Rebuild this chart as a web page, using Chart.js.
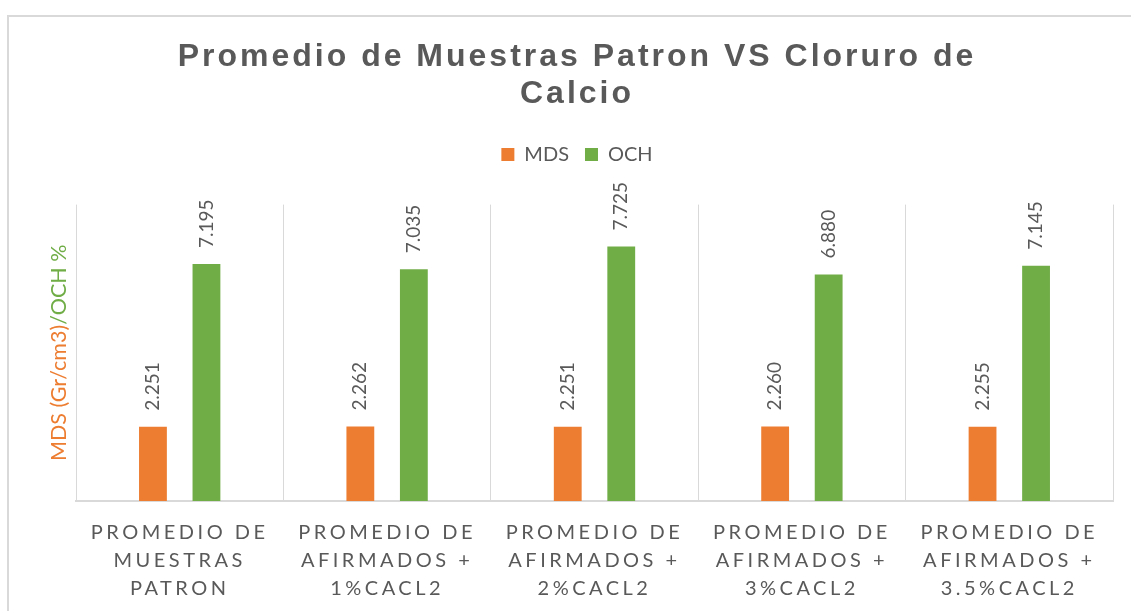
<!DOCTYPE html>
<html>
<head>
<meta charset="utf-8">
<script src="https://cdn.jsdelivr.net/npm/chart.js@4"></script>
<style>
  body { margin: 0; background: #fff; }
  canvas { display: block; }
</style>
</head>
<body>
<canvas id="chart" width="1131" height="611"></canvas>
<script>
// chart data
const categories = [
  ['PROMEDIO DE', 'MUESTRAS', 'PATRON'],
  ['PROMEDIO DE', 'AFIRMADOS +', '1%CACL2'],
  ['PROMEDIO DE', 'AFIRMADOS +', '2%CACL2'],
  ['PROMEDIO DE', 'AFIRMADOS +', '3%CACL2'],
  ['PROMEDIO DE', 'AFIRMADOS +', '3.5%CACL2']
];
const mdsValues = [2.251, 2.262, 2.251, 2.260, 2.255];
const ochValues = [7.195, 7.035, 7.725, 6.880, 7.145];
const titleLines = ['Promedio de Muestras Patron VS Cloruro de', 'Calcio'];

const textGray = '#595959';
const gridGray = '#d9d9d9';

// outer chart frame
const framePlugin = {
  id: 'frame',
  beforeDraw(chart) {
    const ctx = chart.ctx;
    ctx.save();
    ctx.strokeStyle = gridGray;
    ctx.lineWidth = 2;
    ctx.beginPath();
    ctx.moveTo(8, chart.height);
    ctx.lineTo(8, 16);
    ctx.lineTo(chart.width, 16);
    ctx.stroke();
    ctx.restore();
  }
};

// extra room under the legend
const legendGap = {
  id: 'legendGap',
  beforeLayout(chart) {
    const lg = chart.legend;
    if (lg && !lg._gap) {
      const orig = lg.fit;
      lg.fit = function () {
        orig.call(this);
        this.height += 30;
      };
      lg._gap = true;
    }
  }
};

// letter spacing for title and category labels
const spacingPlugin = {
  id: 'spacing',
  afterLayout(chart) {
    const t = chart.titleBlock;
    if (t && !t._spaced) {
      const orig = t.draw;
      t.draw = function (area) {
        chart.ctx.save();
        chart.ctx.letterSpacing = '3px';
        orig.call(this, area);
        chart.ctx.restore();
      };
      t._spaced = true;
    }
    const x = chart.scales.x;
    if (x && !x._spaced) {
      const orig = x.drawLabels;
      x.drawLabels = function (area) {
        chart.ctx.save();
        chart.ctx.letterSpacing = '3.5px';
        orig.call(this, area);
        chart.ctx.restore();
      };
      x._spaced = true;
    }
  }
};

// rotated value labels above bars
const valueLabels = {
  id: 'valueLabels',
  afterDatasetsDraw(chart) {
    const ctx = chart.ctx;
    ctx.save();
    ctx.font = '19px Lato';
    ctx.fillStyle = textGray;
    ctx.textAlign = 'left';
    ctx.textBaseline = 'middle';
    chart.data.datasets.forEach((ds, i) => {
      chart.getDatasetMeta(i).data.forEach((bar, j) => {
        ctx.save();
        ctx.translate(bar.x, bar.y - 16);
        ctx.rotate(-Math.PI / 2);
        ctx.fillText(ds.data[j].toFixed(3), 0, 0);
        ctx.restore();
      });
    });
    ctx.restore();
  }
};

// two-colour axis title
const yTitle = {
  id: 'yTitle',
  afterDraw(chart) {
    const ctx = chart.ctx;
    const area = chart.chartArea;
    const a = 'MDS (Gr/cm3)';
    const b = '/OCH %';
    ctx.save();
    ctx.font = '21.5px Lato';
    const wa = ctx.measureText(a).width;
    const wb = ctx.measureText(b).width;
    ctx.translate(59, (area.top + area.bottom) / 2);
    ctx.rotate(-Math.PI / 2);
    ctx.textBaseline = 'middle';
    ctx.textAlign = 'left';
    const start = -(wa + wb) / 2;
    ctx.fillStyle = '#ed7d31';
    ctx.fillText(a, start, 0);
    ctx.fillStyle = '#70ad47';
    ctx.fillText(b, start + wa, 0);
    ctx.restore();
  }
};

new Chart(document.getElementById('chart'), {
  type: 'bar',
  data: {
    labels: categories,
    datasets: [
      { label: 'MDS', data: mdsValues, backgroundColor: '#ed7d31' },
      { label: 'OCH', data: ochValues, backgroundColor: '#70ad47' }
    ]
  },
  options: {
    responsive: false,
    animation: false,
    categoryPercentage: 0.516,
    barPercentage: 0.52,
    layout: { padding: { top: 16, left: 41, right: 18, bottom: 0 } },
    plugins: {
      title: {
        display: true,
        text: titleLines,
        color: textGray,
        font: { family: 'Liberation Sans', size: 32, weight: 'bold', lineHeight: 1.15 },
        padding: { top: 23, bottom: 16 }
      },
      legend: {
        labels: {
          color: textGray,
          font: { family: 'Lato', size: 20 },
          boxWidth: 13,
          boxHeight: 13,
          padding: 16
        }
      },
      tooltip: { enabled: false }
    },
    scales: {
      x: {
        grid: { color: gridGray, drawTicks: false, offset: true },
        border: { color: gridGray, width: 2 },
        ticks: {
          color: textGray,
          font: { family: 'Lato', size: 20, lineHeight: 1.4 },
          padding: 18,
          maxRotation: 0,
          autoSkip: false
        },
        afterFit(scale) { scale.height -= 10; }
      },
      y: {
        min: 0,
        max: 9,
        grid: { display: false },
        border: { display: false },
        ticks: { display: false },
        afterFit(scale) { scale.width = 35; }
      }
    }
  },
  plugins: [framePlugin, legendGap, spacingPlugin, valueLabels, yTitle]
});
</script>
</body>
</html>
